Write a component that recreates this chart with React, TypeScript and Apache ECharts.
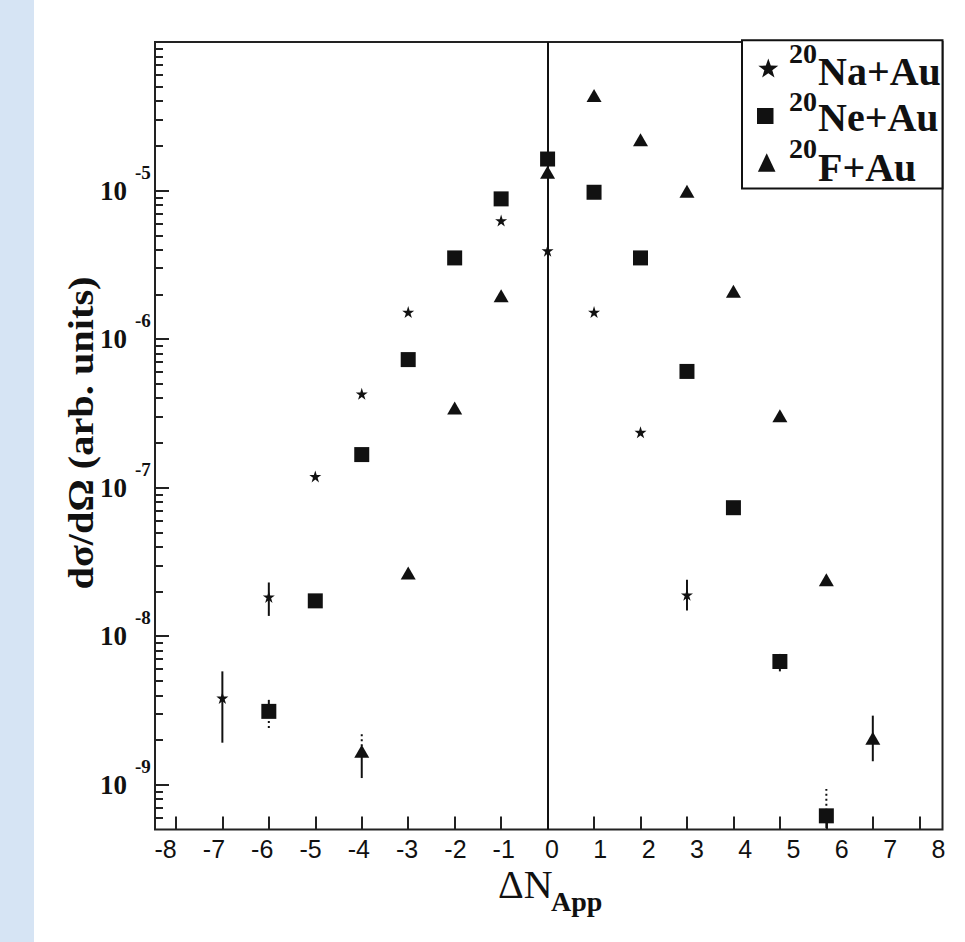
import React, { useEffect, useRef } from 'react';
import * as echarts from 'echarts';

// ---- data ----
const naX = [-7, -6, -5, -4, -3, -1, 0, 1, 2, 3];
const naY = [3.84e-9, 1.84e-8, 1.19e-7, 4.28e-7, 1.52e-6, 6.28e-6, 3.94e-6, 1.52e-6, 2.36e-7, 1.9e-8];

const neX = [-6, -5, -4, -3, -2, -1, 0, 1, 2, 3, 4, 5, 6];
const neY = [3.12e-9, 1.73e-8, 1.67e-7, 7.28e-7, 3.52e-6, 8.79e-6, 1.63e-5, 9.74e-6, 3.52e-6, 6.06e-7, 7.33e-8, 6.76e-9, 6.18e-10];

const fX = [-4, -3, -2, -1, 0, 1, 2, 3, 4, 5, 6, 7];
const fY = [1.68e-9, 2.66e-8, 3.44e-7, 1.96e-6, 1.33e-5, 4.36e-5, 2.2e-5, 9.9e-6, 2.1e-6, 3.05e-7, 2.4e-8, 2.06e-9];

// error bars: [x, low, high]
const naErr = [[-7, 1.92e-9, 5.8e-9], [-6, 1.37e-8, 2.3e-8], [3, 1.49e-8, 2.4e-8]];
const neErr = [[-6, 3.12e-9, 3.73e-9], [5, 5.8e-9, 7.6e-9], [6, 5.1e-10, 6.18e-10]];
const neErrDotted = [[-6, 2.41e-9, 3.12e-9], [6, 6.18e-10, 9.35e-10]];
const fErr = [[-4, 1.11e-9, 1.68e-9], [7, 1.44e-9, 2.92e-9]];
const fErrDotted = [[-4, 1.68e-9, 2.29e-9]];

// ticks / labels
const xTicks = [-8, -7, -6, -5, -4, -3, -2, -1, 0, 1, 2, 3, 4, 5, 6, 7, 8];
const yMajor = [1e-9, 1e-8, 1e-7, 1e-6, 1e-5];
const yExponent = ['-9', '-8', '-7', '-6', '-5'];
const yMinor: number[] = [];
for (let e = -10; e <= -5; e++) {
  for (let m = 2; m <= 9; m++) {
    const v = m * Math.pow(10, e);
    if (v > 5.05e-10 && v < 0.99e-4) yMinor.push(v);
  }
}

const legendSup = ['20', '20', '20'];
const legendNames = ['Na+Au', 'Ne+Au', 'F+Au'];
const yTitle = 'dσ/dΩ (arb. units)';
const xTitleMain = 'ΔN';
const xTitleSub = 'App';

const SERIF = '"Liberation Serif", "Times New Roman", serif';
const SANS = '"Liberation Sans", Arial, sans-serif';
const INK = '#111';
const STAR =
  'path://M100,0L122.45,69.1L195.1,69.1L136.3,111.8L158.8,180.9L100,138.2L41.2,180.9L63.7,111.8L4.9,69.1L77.55,69.1Z';

function starPoints(cx: number, cy: number, r: number, ri: number) {
  const pts: number[][] = [];
  for (let i = 0; i < 10; i++) {
    const a = -Math.PI / 2 + (i * Math.PI) / 5;
    const rr = i % 2 === 0 ? r : ri;
    pts.push([cx + rr * Math.cos(a), cy + rr * Math.sin(a)]);
  }
  return pts;
}

function txt(text: string, x: number, y: number, size: number, weight: string, family: string, extra: any = {}) {
  return {
    type: 'text',
    x,
    y,
    ...extra,
    style: {
      text,
      fill: INK,
      font: `${weight} ${size}px ${family}`,
      fontSize: size,
      fontWeight: weight,
      fontFamily: family,
      textAlign: extra.align || 'left',
      align: extra.align || 'left',
      textVerticalAlign: 'middle',
      verticalAlign: 'middle',
    },
  };
}

const errRender = (dash: number[] | null) => (params: any, api: any) => {
  const x = api.value(0);
  const p1 = api.coord([x, api.value(1)]);
  const p2 = api.coord([x, api.value(2)]);
  return {
    type: 'line',
    shape: { x1: p1[0], y1: p1[1], x2: p2[0], y2: p2[1] },
    style: { stroke: INK, lineWidth: 2, lineDash: dash || undefined },
  };
};

export default function App() {
  const ref = useRef<HTMLDivElement>(null);

  useEffect(() => {
    if (!ref.current) return;
    const chart = echarts.init(ref.current, null, { renderer: 'svg' });

    const pair = (xs: number[], ys: number[]) => xs.map((x, i) => [x, ys[i]]);
    const markerStyle = { color: INK, opacity: 1 };

    const option: any = {
      animation: false,
      backgroundColor: '#fff',
      grid: {
        left: 155,
        right: 22.5,
        top: 42,
        bottom: 112.5,
        show: true,
        borderColor: '#222',
        borderWidth: 2,
        backgroundColor: 'transparent',
      },
      xAxis: [
        {
          type: 'value',
          position: 'bottom',
          min: -8.45,
          max: 8.5,
          axisLine: { show: false, onZero: false },
          axisTick: {
            show: true,
            inside: true,
            length: 13,
            customValues: xTicks,
            lineStyle: { color: '#222', width: 2 },
          },
          axisLabel: { show: false },
          splitLine: { show: false },
        },
        {
          type: 'value',
          position: 'bottom',
          min: -8.22,
          max: 8.085,
          axisLine: { show: false, onZero: false },
          axisTick: { show: false },
          axisLabel: {
            show: true,
            customValues: xTicks,
            margin: 7,
            fontFamily: SANS,
            fontSize: 25,
            color: INK,
          },
          splitLine: { show: false },
        },
      ],
      yAxis: [
        {
          type: 'log',
          position: 'left',
          min: 5e-10,
          max: 1e-4,
          axisLine: { show: false, onZero: false },
          axisTick: {
            show: true,
            inside: true,
            length: 14,
            customValues: yMajor,
            lineStyle: { color: '#222', width: 2 },
          },
          axisLabel: {
            show: true,
            customValues: yMajor,
            formatter: () => '10',
            margin: 28,
            fontFamily: SERIF,
            fontWeight: 'bold',
            fontSize: 27,
            color: INK,
          },
          splitLine: { show: false },
          minorTick: { show: false },
        },
        {
          type: 'log',
          position: 'left',
          min: 5e-10,
          max: 1e-4,
          axisLine: { show: false, onZero: false },
          axisTick: {
            show: true,
            inside: true,
            length: 8,
            customValues: yMinor,
            lineStyle: { color: '#222', width: 2 },
          },
          axisLabel: {
            show: true,
            customValues: yMajor,
            formatter: (v: number) => {
              let best = 0;
              yMajor.forEach((m, i) => {
                if (Math.abs(Math.log10(m) - Math.log10(v)) < Math.abs(Math.log10(yMajor[best]) - Math.log10(v))) best = i;
              });
              return yExponent[best];
            },
            align: 'left',
            verticalAlign: 'bottom',
            lineHeight: 37,
            margin: 20,
            fontFamily: SERIF,
            fontWeight: 'bold',
            fontSize: 19,
            color: INK,
          },
          splitLine: { show: false },
        },
      ],
      series: [
        {
          type: 'custom',
          name: 'err',
          xAxisIndex: 0,
          yAxisIndex: 0,
          renderItem: errRender(null),
          encode: { x: 0, y: [1, 2] },
          data: [...naErr, ...neErr, ...fErr],
          z: 2,
        },
        {
          type: 'custom',
          name: 'errDotted',
          xAxisIndex: 0,
          yAxisIndex: 0,
          renderItem: errRender([2, 3]),
          encode: { x: 0, y: [1, 2] },
          data: [...neErrDotted, ...fErrDotted],
          z: 2,
        },
        {
          type: 'scatter',
          name: '20Na+Au',
          xAxisIndex: 0,
          yAxisIndex: 0,
          symbol: STAR,
          symbolSize: [12, 12],
          itemStyle: markerStyle,
          data: pair(naX, naY),
          z: 3,
          markLine: {
            silent: true,
            symbol: 'none',
            label: { show: false },
            lineStyle: { color: INK, width: 2, type: 'solid', opacity: 1 },
            data: [{ xAxis: 0 }],
          },
        },
        {
          type: 'scatter',
          name: '20Ne+Au',
          xAxisIndex: 0,
          yAxisIndex: 0,
          symbol: 'rect',
          symbolSize: 15,
          itemStyle: markerStyle,
          data: pair(neX, neY),
          z: 4,
        },
        {
          type: 'scatter',
          name: '20F+Au',
          xAxisIndex: 0,
          yAxisIndex: 0,
          symbol: 'triangle',
          symbolSize: [15, 13],
          itemStyle: markerStyle,
          data: pair(fX, fY),
          z: 4,
        },
      ],
      graphic: [
        { type: 'rect', shape: { x: 0, y: 0, width: 34, height: 942 }, style: { fill: '#d6e4f4' }, z: 0 },
        // y title
        txt(yTitle, 81, 433, 36, 'bold', SERIF, { rotation: Math.PI / 2, scaleX: 1.12, align: 'center' }),
        // x title
        txt(xTitleMain, 498, 884.5, 40, 'normal', SERIF),
        txt(xTitleSub, 551, 901.5, 28, 'bold', SERIF),
        // legend box
        {
          type: 'rect',
          shape: { x: 742, y: 40.3, width: 200.5, height: 148.2 },
          style: { fill: '#fff', stroke: INK, lineWidth: 2 },
          z: 10,
        },
        { type: 'polygon', shape: { points: starPoints(768.3, 69, 10.5, 4.2) }, style: { fill: INK }, z: 11 },
        { type: 'rect', shape: { x: 757, y: 108, width: 16.5, height: 16 }, style: { fill: INK }, z: 11 },
        {
          type: 'polygon',
          shape: { points: [[766.7, 153.3], [775.5, 171.7], [757.9, 171.7]] },
          style: { fill: INK },
          z: 11,
        },
        { ...txt(legendSup[0], 789, 53.5, 28, 'bold', SERIF), z: 11 },
        { ...txt(legendNames[0], 818, 71, 40, 'bold', SERIF), z: 11 },
        { ...txt(legendSup[1], 789, 101.5, 28, 'bold', SERIF), z: 11 },
        { ...txt(legendNames[1], 818, 117.5, 40, 'bold', SERIF), z: 11 },
        { ...txt(legendSup[2], 789, 148.5, 28, 'bold', SERIF), z: 11 },
        { ...txt(legendNames[2], 818, 167, 40, 'bold', SERIF), z: 11 },
      ],
    };

    chart.setOption(option);
    return () => chart.dispose();
  }, []);

  return (
    <div
      ref={ref}
      style={{ position: 'absolute', left: 0, top: 0, width: 965, height: 942 }}
    />
  );
}
